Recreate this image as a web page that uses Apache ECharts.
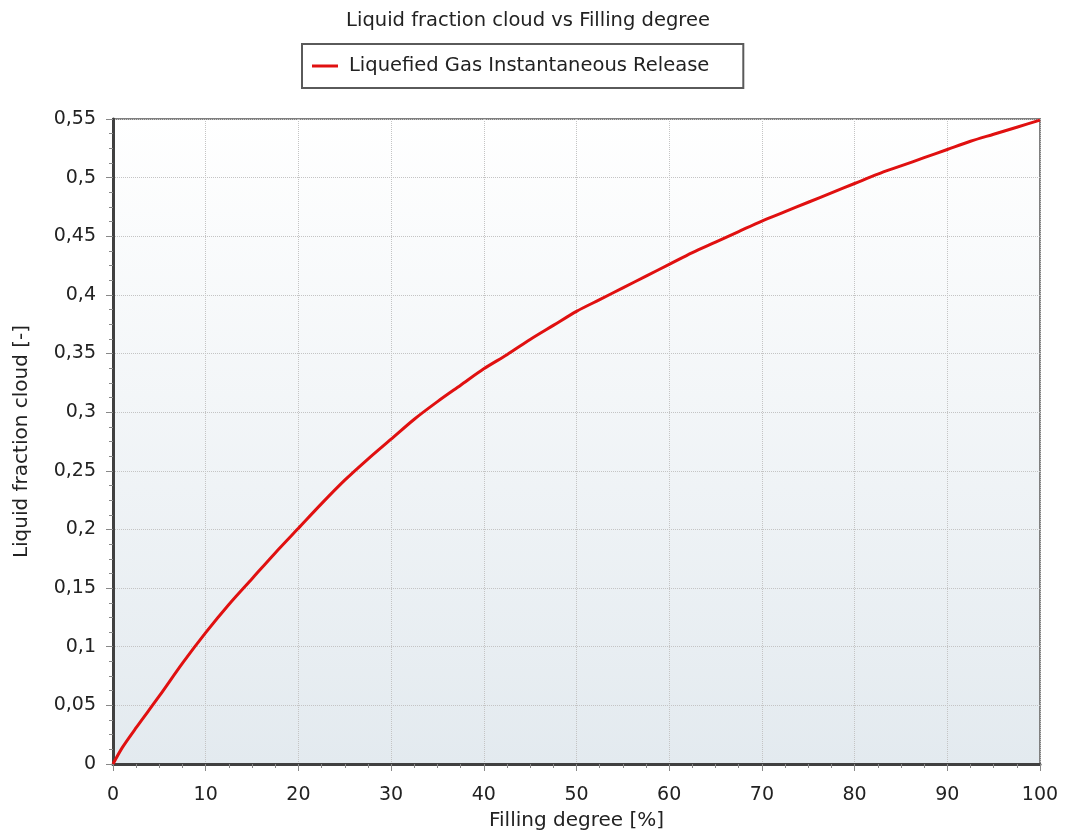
<!DOCTYPE html>
<html>
<head>
<meta charset="utf-8">
<style>
  html, body { margin: 0; padding: 0; background: #ffffff; }
  #chart { width: 1070px; height: 839px; }
</style>
<script src="https://cdn.jsdelivr.net/npm/echarts@6/dist/echarts.min.js"></script>
</head>
<body>
<div id="chart"></div>
<script>
const titleText = 'Liquid fraction cloud vs Filling degree';
const seriesName = 'Liquefied Gas Instantaneous Release';
const xAxisName = 'Filling degree [%]';
const yAxisName = 'Liquid fraction cloud [-]';

const fillingDegree = [0, 1, 2.5, 5, 7.5, 10, 12.5, 15, 17.5, 20, 22.5, 25, 27.5, 30, 32.5, 35, 37.5, 40, 42.5, 45, 47.5, 50, 52.5, 55, 57.5, 60, 62.5, 65, 67.5, 70, 72.5, 75, 77.5, 80, 82.5, 85, 87.5, 90, 92.5, 95, 97.5, 100];
const liquidFraction = [0, 0.014, 0.031, 0.058, 0.086, 0.112, 0.136, 0.158, 0.180, 0.201, 0.222, 0.242, 0.260, 0.277, 0.294, 0.309, 0.323, 0.337, 0.349, 0.362, 0.374, 0.386, 0.396, 0.406, 0.416, 0.426, 0.436, 0.445, 0.454, 0.463, 0.471, 0.479, 0.487, 0.495, 0.503, 0.510, 0.517, 0.524, 0.531, 0.537, 0.543, 0.549];

const xTicks = { min: 0, max: 100, interval: 10 };
const yTicks = { min: 0, max: 0.55, interval: 0.05 };

const FONT = 'DejaVu Sans';
const chart = echarts.init(document.getElementById('chart'), null, { renderer: 'canvas' });

const data = fillingDegree.map((x, i) => [x, liquidFraction[i]]);

chart.setOption({
  animation: false,
  backgroundColor: '#ffffff',
  title: {
    text: titleText,
    left: 523,
    textAlign: 'center',
    top: 6,
    textStyle: { fontFamily: FONT, fontSize: 19.5, fontWeight: 'normal', color: '#222222' }
  },
  legend: {
    data: [seriesName],
    left: 302,
    top: 44,
    padding: [12, 34, 12, 10],
    itemWidth: 26,
    itemHeight: 3,
    itemGap: 10,
    borderColor: '#5a5a5a',
    borderWidth: 2,
    backgroundColor: '#ffffff',
    textStyle: { fontFamily: FONT, fontSize: 19.5, color: '#222222', padding: [0, 0, 0, 6] },
    icon: 'rect'
  },
  grid: {
    left: 113, right: 30, top: 119, bottom: 75,
    show: true,
    borderColor: '#808080',
    borderWidth: 2,
    backgroundColor: {
      type: 'linear', x: 0, y: 0, x2: 0, y2: 1,
      colorStops: [
        { offset: 0, color: '#ffffff' },
        { offset: 1, color: '#e3eaef' }
      ]
    }
  },
  xAxis: {
    type: 'value',
    min: xTicks.min, max: xTicks.max, interval: xTicks.interval,
    name: xAxisName,
    nameLocation: 'middle',
    nameGap: 47,
    nameTextStyle: { fontFamily: FONT, fontSize: 20, color: '#222222' },
    axisLine: { show: true, onZero: false, lineStyle: { color: '#404040', width: 3 } },
    axisTick: { show: true, inside: false, length: 7, lineStyle: { color: '#888888', width: 1 } },
    minorTick: { show: true, splitNumber: 4, length: 4, lineStyle: { color: '#888888', width: 1 } },
    axisLabel: { fontFamily: FONT, fontSize: 19, color: '#222222', margin: 22 },
    splitLine: { show: true, lineStyle: { color: '#c4c4c4', type: 'dotted', width: 1 } }
  },
  yAxis: {
    type: 'value',
    min: yTicks.min, max: yTicks.max, interval: yTicks.interval,
    name: yAxisName,
    nameLocation: 'middle',
    nameGap: 81,
    nameRotate: 90,
    nameTextStyle: { fontFamily: FONT, fontSize: 20, color: '#222222' },
    axisLine: { show: true, onZero: false, lineStyle: { color: '#404040', width: 3 } },
    axisTick: { show: true, inside: false, length: 7, lineStyle: { color: '#888888', width: 1 } },
    minorTick: { show: true, splitNumber: 4, length: 4, lineStyle: { color: '#888888', width: 1 } },
    axisLabel: {
      fontFamily: FONT, fontSize: 19, color: '#222222', margin: 17,
      formatter: v => String(Math.round(v * 100) / 100).replace('.', ',')
    },
    splitLine: { show: true, lineStyle: { color: '#c4c4c4', type: 'dotted', width: 1 } }
  },
  series: [{
    name: seriesName,
    type: 'line',
    data: data,
    smooth: 0.3,
    showSymbol: false,
    symbol: 'none',
    lineStyle: { color: '#e01010', width: 3 },
    itemStyle: { color: '#e01010' }
  }]
});
</script>
</body>
</html>
